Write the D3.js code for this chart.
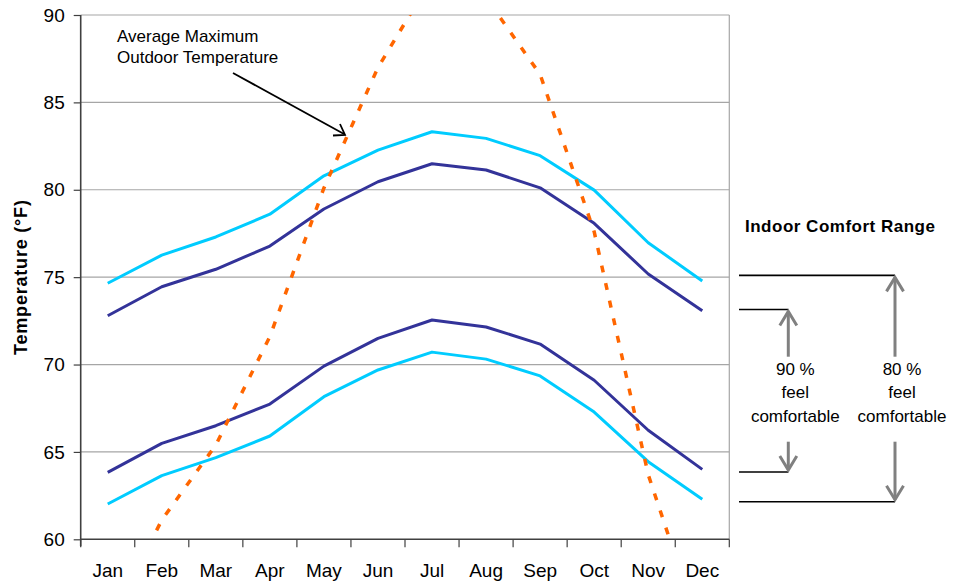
<!DOCTYPE html>
<html>
<head>
<meta charset="utf-8">
<script src="https://cdn.jsdelivr.net/npm/d3@7"></script>
<style>
  html, body { margin: 0; padding: 0; background: #fff; }
  svg { display: block; font-family: "Liberation Sans", Arial, sans-serif; }
</style>
</head>
<body>
<svg id="chart" width="958" height="586"></svg>
<script>
// Monthly temperatures (°F)
const months = ["Jan","Feb","Mar","Apr","May","Jun","Jul","Aug","Sep","Oct","Nov","Dec"];
const outdoorMax = [55.0, 61.1, 65.4, 71.6, 80.1, 87.0, 92.1, 91.0, 86.6, 77.6, 63.7, 54.4];
const upper80 = [74.65, 76.26, 77.3, 78.6, 80.8, 82.27, 83.32, 82.94, 81.95, 79.98, 76.97, 74.78];
const upper90 = [72.79, 74.45, 75.45, 76.78, 78.9, 80.46, 81.49, 81.13, 80.11, 78.08, 75.18, 73.08];
const lower90 = [63.83, 65.49, 66.5, 67.74, 69.91, 71.5, 72.55, 72.15, 71.17, 69.1, 66.24, 64.0];
const lower80 = [62.02, 63.64, 64.67, 65.91, 68.16, 69.69, 70.71, 70.31, 69.35, 67.28, 64.44, 62.29];
const yTicks = [60, 65, 70, 75, 80, 85, 90];

// Comfort-range key levels (°F) and labels
const range80 = [75.1, 62.15];
const range90 = [73.15, 63.85];
const keyLabels = ["feel", "comfortable"];

const svg = d3.select("#chart");
const plotLeft = 80.7, plotRight = 729.3, plotTop = 15, plotBottom = 539.3;

const x = d3.scaleBand().domain(months).range([plotLeft, plotRight]).padding(0);
const y = d3.scaleLinear().domain([60, 90]).range([plotBottom, plotTop]);
const xc = m => x(m) + x.bandwidth() / 2;

svg.append("rect").attr("width", 958).attr("height", 586).attr("fill", "#fff");

// gridlines
svg.append("g").selectAll("line").data(yTicks.slice(1)).join("line")
  .attr("x1", plotLeft).attr("x2", plotRight)
  .attr("y1", d => y(d)).attr("y2", d => y(d))
  .attr("stroke", "#a6a6a6").attr("stroke-width", 1.2);

// right border of the plot area
svg.append("line").attr("x1", plotRight).attr("x2", plotRight)
  .attr("y1", plotTop).attr("y2", plotBottom)
  .attr("stroke", "#a6a6a6").attr("stroke-width", 1.2);

// y axis
const yAxis = svg.append("g").attr("transform", `translate(${plotLeft},0)`)
  .call(d3.axisLeft(y).tickValues(yTicks).tickSize(7).tickPadding(9).tickFormat(d3.format("d")));
yAxis.select(".domain").attr("stroke", "#404040").attr("stroke-width", 1.6).attr("d", `M0,${plotTop}V${plotBottom + 7}`);
yAxis.selectAll(".tick line").attr("stroke", "#404040").attr("stroke-width", 1.2);
yAxis.selectAll(".tick text").attr("font-size", 19).attr("fill", "#000")
  .attr("font-family", "'Liberation Sans', Arial, sans-serif");

// x axis: labels centred in each month, ticks on month boundaries
const xAxis = svg.append("g").attr("transform", `translate(0,${plotBottom})`)
  .call(d3.axisBottom(x).tickSize(0).tickPadding(24));
xAxis.select(".domain").attr("stroke", "#404040").attr("stroke-width", 1.6).attr("d", `M${plotLeft},0H${plotRight}`);
xAxis.selectAll(".tick text").attr("font-size", 19).attr("fill", "#000")
  .attr("font-family", "'Liberation Sans', Arial, sans-serif");
svg.append("g").selectAll("line").data(months.concat(["end"])).join("line")
  .attr("x1", (d, i) => plotLeft + i * x.bandwidth()).attr("x2", (d, i) => plotLeft + i * x.bandwidth())
  .attr("y1", plotBottom).attr("y2", plotBottom + 8)
  .attr("stroke", "#404040").attr("stroke-width", 1.2);

// y axis title
svg.append("text")
  .attr("transform", `translate(27,${(plotTop + plotBottom) / 2}) rotate(-90)`)
  .attr("text-anchor", "middle")
  .attr("font-size", 18).attr("font-weight", "bold").attr("letter-spacing", 0.8)
  .text("Temperature (°F)");

// series
svg.append("defs").append("clipPath").attr("id", "plot")
  .append("rect").attr("x", plotLeft).attr("y", plotTop)
  .attr("width", plotRight - plotLeft).attr("height", plotBottom - plotTop);

const line = d3.line().x((d, i) => xc(months[i])).y(d => y(d));
const plot = svg.append("g").attr("clip-path", "url(#plot)");

const series = [
  { values: lower90, color: "#333399" },
  { values: upper90, color: "#333399" },
  { values: lower80, color: "#00ccff" },
  { values: upper80, color: "#00ccff" }
];
plot.selectAll("path.s").data(series).join("path").attr("class", "s")
  .attr("d", d => line(d.values))
  .attr("fill", "none").attr("stroke", d => d.color).attr("stroke-width", 3)
  .attr("stroke-linejoin", "round");

plot.append("path").attr("d", line(outdoorMax))
  .attr("fill", "none").attr("stroke", "#ff6600").attr("stroke-width", 3.5)
  .attr("stroke-dasharray", "7,11");

// outdoor temperature annotation
const note = svg.append("text").attr("font-size", 17).attr("fill", "#000");
note.append("tspan").attr("x", 117).attr("y", 42).text("Average Maximum");
note.append("tspan").attr("x", 117).attr("y", 63).text("Outdoor Temperature");
svg.append("line").attr("x1", 233).attr("y1", 73).attr("x2", 344).attr("y2", 134)
  .attr("stroke", "#000").attr("stroke-width", 1.8);
svg.append("path").attr("d", "M333,135.5L345,135L340,124")
  .attr("fill", "none").attr("stroke", "#000").attr("stroke-width", 1.8);

// indoor comfort range key
svg.append("text").attr("x", 745).attr("y", 232)
  .attr("font-size", 17).attr("font-weight", "bold").attr("letter-spacing", 0.5)
  .text("Indoor Comfort Range");

const keyLeft = 739;
const key = [
  { levels: range90, cx: 788.3, pct: "90 %" },
  { levels: range80, cx: 895, pct: "80 %" }
];
key.forEach(k => {
  const [hi, lo] = k.levels;
  const g = svg.append("g");
  g.selectAll("line.level").data([hi, lo]).join("line").attr("class", "level")
    .attr("x1", keyLeft).attr("x2", k.cx)
    .attr("y1", d => y(d)).attr("y2", d => y(d))
    .attr("stroke", "#000").attr("stroke-width", 1.6);
  const yHi = y(hi) + 2, yLo = y(lo) - 2;
  g.append("line").attr("x1", k.cx).attr("x2", k.cx).attr("y1", yHi).attr("y2", 356.7)
    .attr("stroke", "#808080").attr("stroke-width", 3);
  g.append("line").attr("x1", k.cx).attr("x2", k.cx).attr("y1", 441.7).attr("y2", yLo)
    .attr("stroke", "#808080").attr("stroke-width", 3);
  g.append("path").attr("d", `M${k.cx - 8.5},${yHi + 14}L${k.cx},${yHi}L${k.cx + 8.5},${yHi + 14}`)
    .attr("fill", "none").attr("stroke", "#808080").attr("stroke-width", 3);
  g.append("path").attr("d", `M${k.cx - 8.5},${yLo - 14}L${k.cx},${yLo}L${k.cx + 8.5},${yLo - 14}`)
    .attr("fill", "none").attr("stroke", "#808080").attr("stroke-width", 3);
  const tx = k.cx + 7;
  const t = g.append("text").attr("text-anchor", "middle").attr("font-size", 17).attr("fill", "#000");
  t.append("tspan").attr("x", tx).attr("y", 375).text(k.pct);
  keyLabels.forEach((s, i) => t.append("tspan").attr("x", tx).attr("y", 398 + i * 24).text(s));
});
</script>
</body>
</html>
